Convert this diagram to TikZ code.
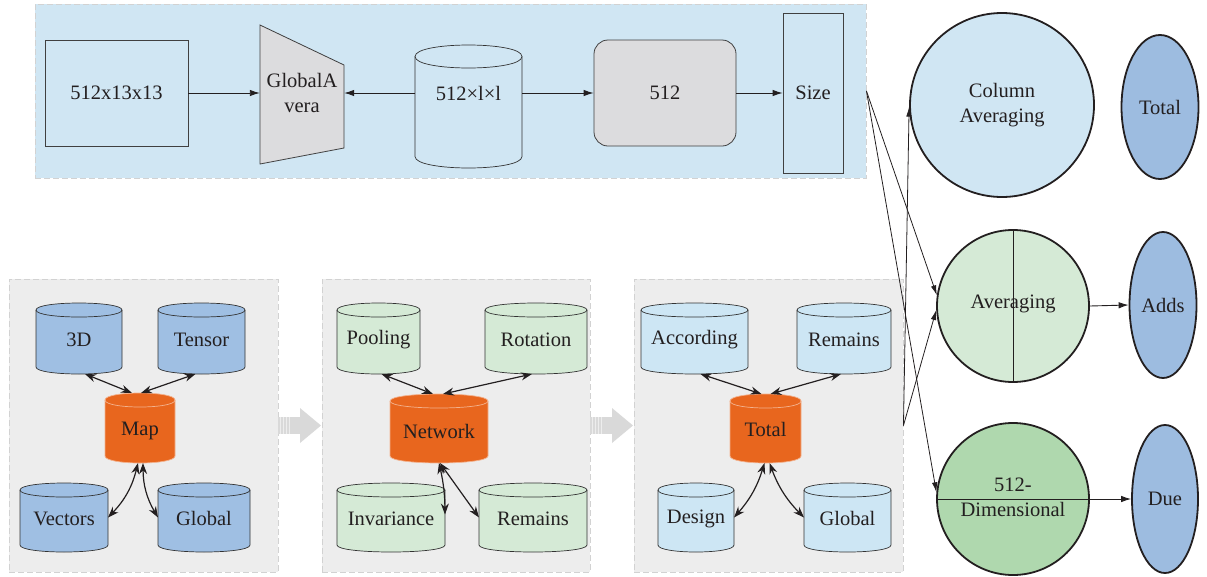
\documentclass[tikz,border=0pt]{standalone}
\usepackage{fontspec}
\setmainfont{Liberation Serif}
\usetikzlibrary{arrows.meta,shapes.geometric,calc}
\definecolor{topbg}{HTML}{D0E6F3}
\definecolor{graybox}{HTML}{DCDCDE}
\definecolor{panelbg}{HTML}{EDEDED}
\definecolor{dashgray}{HTML}{D2D2D2}
\definecolor{cblue}{HTML}{9FBFE3}
\definecolor{cgreen}{HTML}{D5EAD6}
\definecolor{clblue}{HTML}{CDE6F4}
\definecolor{corange}{HTML}{E8661E}
\definecolor{avgfill}{HTML}{D5EAD6}
\definecolor{dimfill}{HTML}{AFD8AE}
\definecolor{ovalblue}{HTML}{9DBCE0}
\definecolor{arrowgray}{HTML}{D9D9D9}
\definecolor{ink}{HTML}{231F20}
\tikzset{
  lbl/.style={font=\rmfamily\fontsize{20.5}{25}\selectfont, align=center, text=ink},
  panel/.style={draw=dashgray, dash pattern=on 6pt off 3pt, line width=0.9pt, inner sep=0pt},
  box/.style={draw=black!75, line width=0.8pt, inner sep=0pt, lbl},
  flow/.style={-{Latex[length=10pt,width=6.5pt]}, line width=0.9pt, draw=ink},
  dbl/.style={{Stealth[length=11pt,width=8pt]}-{Stealth[length=11pt,width=8pt]}, line width=1.2pt, draw=ink},
  xline/.style={-{Latex[length=10pt,width=5.5pt]}, line width=0.8pt, draw=ink},
  ring/.style={circle, draw=ink, line width=1.8pt, inner sep=0pt},
  oval/.style={ellipse, draw=ink, line width=1.8pt, fill=ovalblue, inner sep=0pt},
  cylline/.style={draw=black!80, line width=0.7pt},
  orangeline/.style={draw=corange!50!white, line width=0.7pt},
}
% name, x1, y1, x2, y2, fill, line style, text, text shift
\newcommand\cylnode[9]{%
  \path[fill=#6,#7] (#2,{#3+\ce}) -- (#2,{#5-\ce})
    .. controls (#2,{#5+0.333*\ce}) and (#4,{#5+0.333*\ce}) .. (#4,{#5-\ce})
    -- (#4,{#3+\ce})
    .. controls (#4,{#3-0.333*\ce}) and (#2,{#3-0.333*\ce}) .. (#2,{#3+\ce}) -- cycle;
  \path[#7] (#2,{#3+\ce}) .. controls (#2,{#3+2.333*\ce}) and (#4,{#3+2.333*\ce}) .. (#4,{#3+\ce});
  \node[inner sep=0pt, outer sep=0pt, minimum width={(#4-#2)*1pt}, minimum height={(#5-#3)*1pt},
        label={[lbl, yshift=#9pt]center:#8}] (#1) at ({(#2+#4)/2},{(#3+#5)/2}) {};
}
\newcommand\bigarrow[1]{%
  \fill[arrowgray] (#1,417) rectangle ({#1+22},434);
  \fill[arrowgray] ({#1+22},408) -- ({#1+43},425.5) -- ({#1+22},443) -- cycle;
  \foreach \s in {2,5,8,11} \draw[white, opacity=0.55, line width=0.8pt] ({#1+\s},417) -- ({#1+\s},434);
}
\begin{document}
\begin{tikzpicture}[x=1pt,y=-1pt]
\useasboundingbox (0,0) rectangle (1207,576);

% panels
\node[panel, fill=topbg, minimum width=831pt, minimum height=174pt] (toppanel) at (450.5,91) {};
\node[panel, fill=panelbg, minimum width=269pt, minimum height=293pt] (p1) at (143.5,425.5) {};
\node[panel, fill=panelbg, minimum width=268pt, minimum height=293pt] (p2) at (456,425.5) {};
\node[panel, fill=panelbg, minimum width=269pt, minimum height=293pt] (p3) at (768.5,425.5) {};
\bigarrow{278}
\bigarrow{590}

% top row
\node[box, fill=topbg, minimum width=143pt, minimum height=106pt] (b1) at (116.5,93) {512x13x13};
\draw[draw=black!75, line width=0.8pt, fill=graybox] (260,25) -- (344,65) -- (344,148) -- (260,164) -- cycle;
\node[lbl, inner sep=0pt, minimum width=84pt, minimum height=80pt] (gav) at (302,93) {GlobalA\\vera};
\def\ce{11.5}
\cylnode{c512}{415}{45}{522}{168}{topbg}{cylline}{512×l×l}{13.5}
\node[box, fill=graybox, rounded corners=14pt, minimum width=142pt, minimum height=106pt] (b512) at (665,93) {512};
\node[box, fill=topbg, minimum width=60pt, minimum height=160pt] (size) at (813,93) {Size};

\draw[flow] (b1.east) -- (gav.west);
\draw[flow] ([yshift=13.5pt]c512.west) -- (gav.east);
\draw[flow] ([yshift=13.5pt]c512.east) -- (b512.west);
\draw[flow] (b512.east) -- (size.west);

% right column
\node[ring, fill=topbg, minimum size=184pt, lbl] (col) at (1002,105) {Column\\Averaging};
\node[ring, fill=avgfill, minimum size=152pt] (avg) at (1013,306) {};
\draw[line width=0.8pt, draw=ink] (avg.north) -- (avg.south);
\node[lbl] (avgt) at (1013,304) {Averaging};
\node[ring, fill=dimfill, minimum size=152pt] (dim) at (1013,499) {};
\draw[line width=0.8pt, draw=ink] (dim.west) -- (dim.east);
\node[lbl] (dimt) at (1013,497) {512-\\Dimensional};
\node[oval, minimum width=77pt, minimum height=144pt, lbl] (tot) at (1160,107) {Total};
\node[oval, minimum width=67pt, minimum height=146pt, lbl] (adds) at (1163,305) {Adds};
\node[oval, minimum width=66pt, minimum height=148pt, lbl] (due) at (1165,499) {Due};
\draw[flow] (avg.east) -- (adds.west);
\draw[flow] (dim.east) -- (due.west);

% crossing connectors
\draw[xline] (toppanel.east) -- (avg.172);
\draw[xline] (toppanel.east) -- (dim.175);
\draw[xline] (p3.east) -- (col.181);
\draw[xline] (p3.east) -- (avg.183);

% group 1
\def\ce{7}
\cylnode{g1a}{36}{303}{122}{374}{cblue}{cylline}{3D}{-1}
\cylnode{g1b}{158}{303}{245}{374}{cblue}{cylline}{Tensor}{-1}
\cylnode{g1m}{105}{393}{175}{463}{corange}{orangeline}{Map}{-3}
\cylnode{g1c}{20}{483}{108}{552}{cblue}{cylline}{Vectors}{-1}
\cylnode{g1d}{158}{483}{250}{552}{cblue}{cylline}{Global}{-1}
\draw[dbl] ([xshift=6pt]g1a.south) -- ([xshift=-8pt]g1m.north);
\draw[dbl] ([xshift=-6pt]g1b.south) -- ([xshift=1pt]g1m.north);
\draw[dbl] ([xshift=-2pt]g1m.south) to[bend left=15] (g1c.east);
\draw[dbl] ([xshift=3pt]g1m.south) to[bend right=15] (g1d.west);

% group 2
\cylnode{g2a}{337}{303}{420}{374}{cgreen}{cylline}{Pooling}{-1}
\cylnode{g2b}{485}{303}{587}{374}{cgreen}{cylline}{Rotation}{-1}
\cylnode{g2m}{390}{394}{488}{463}{corange}{orangeline}{Network}{-3}
\cylnode{g2c}{337}{483}{445}{552}{cgreen}{cylline}{Invariance}{-1}
\cylnode{g2d}{479}{483}{587}{552}{cgreen}{cylline}{Remains}{-1}
\draw[dbl] ([xshift=3pt]g2a.south) -- ([xshift=-6pt]g2m.north);
\draw[dbl] ([xshift=-4pt]g2b.south) -- ([xshift=4pt]g2m.north);
\draw[dbl] (g2m.south) to[bend left=6] ([yshift=3pt]g2c.east);
\draw[dbl] ([xshift=1pt]g2m.south) -- (g2d.west);

% group 3
\cylnode{g3a}{641}{303}{748}{374}{clblue}{cylline}{According}{-1}
\cylnode{g3b}{797}{303}{891}{374}{clblue}{cylline}{Remains}{-1}
\cylnode{g3m}{730}{394}{801}{463}{corange}{orangeline}{Total}{-1}
\cylnode{g3c}{658}{483}{734}{552}{clblue}{cylline}{Design}{-1}
\cylnode{g3d}{804}{483}{891}{552}{clblue}{cylline}{Global}{-1}
\draw[dbl] ([xshift=6pt]g3a.south) -- ([xshift=-4pt]g3m.north);
\draw[dbl] ([xshift=-3pt]g3b.south) -- ([xshift=5pt]g3m.north);
\draw[dbl] ([xshift=-1pt]g3m.south) to[bend left=12] (g3c.east);
\draw[dbl] ([xshift=4pt]g3m.south) to[bend right=12] (g3d.west);
\end{tikzpicture}
\end{document}
